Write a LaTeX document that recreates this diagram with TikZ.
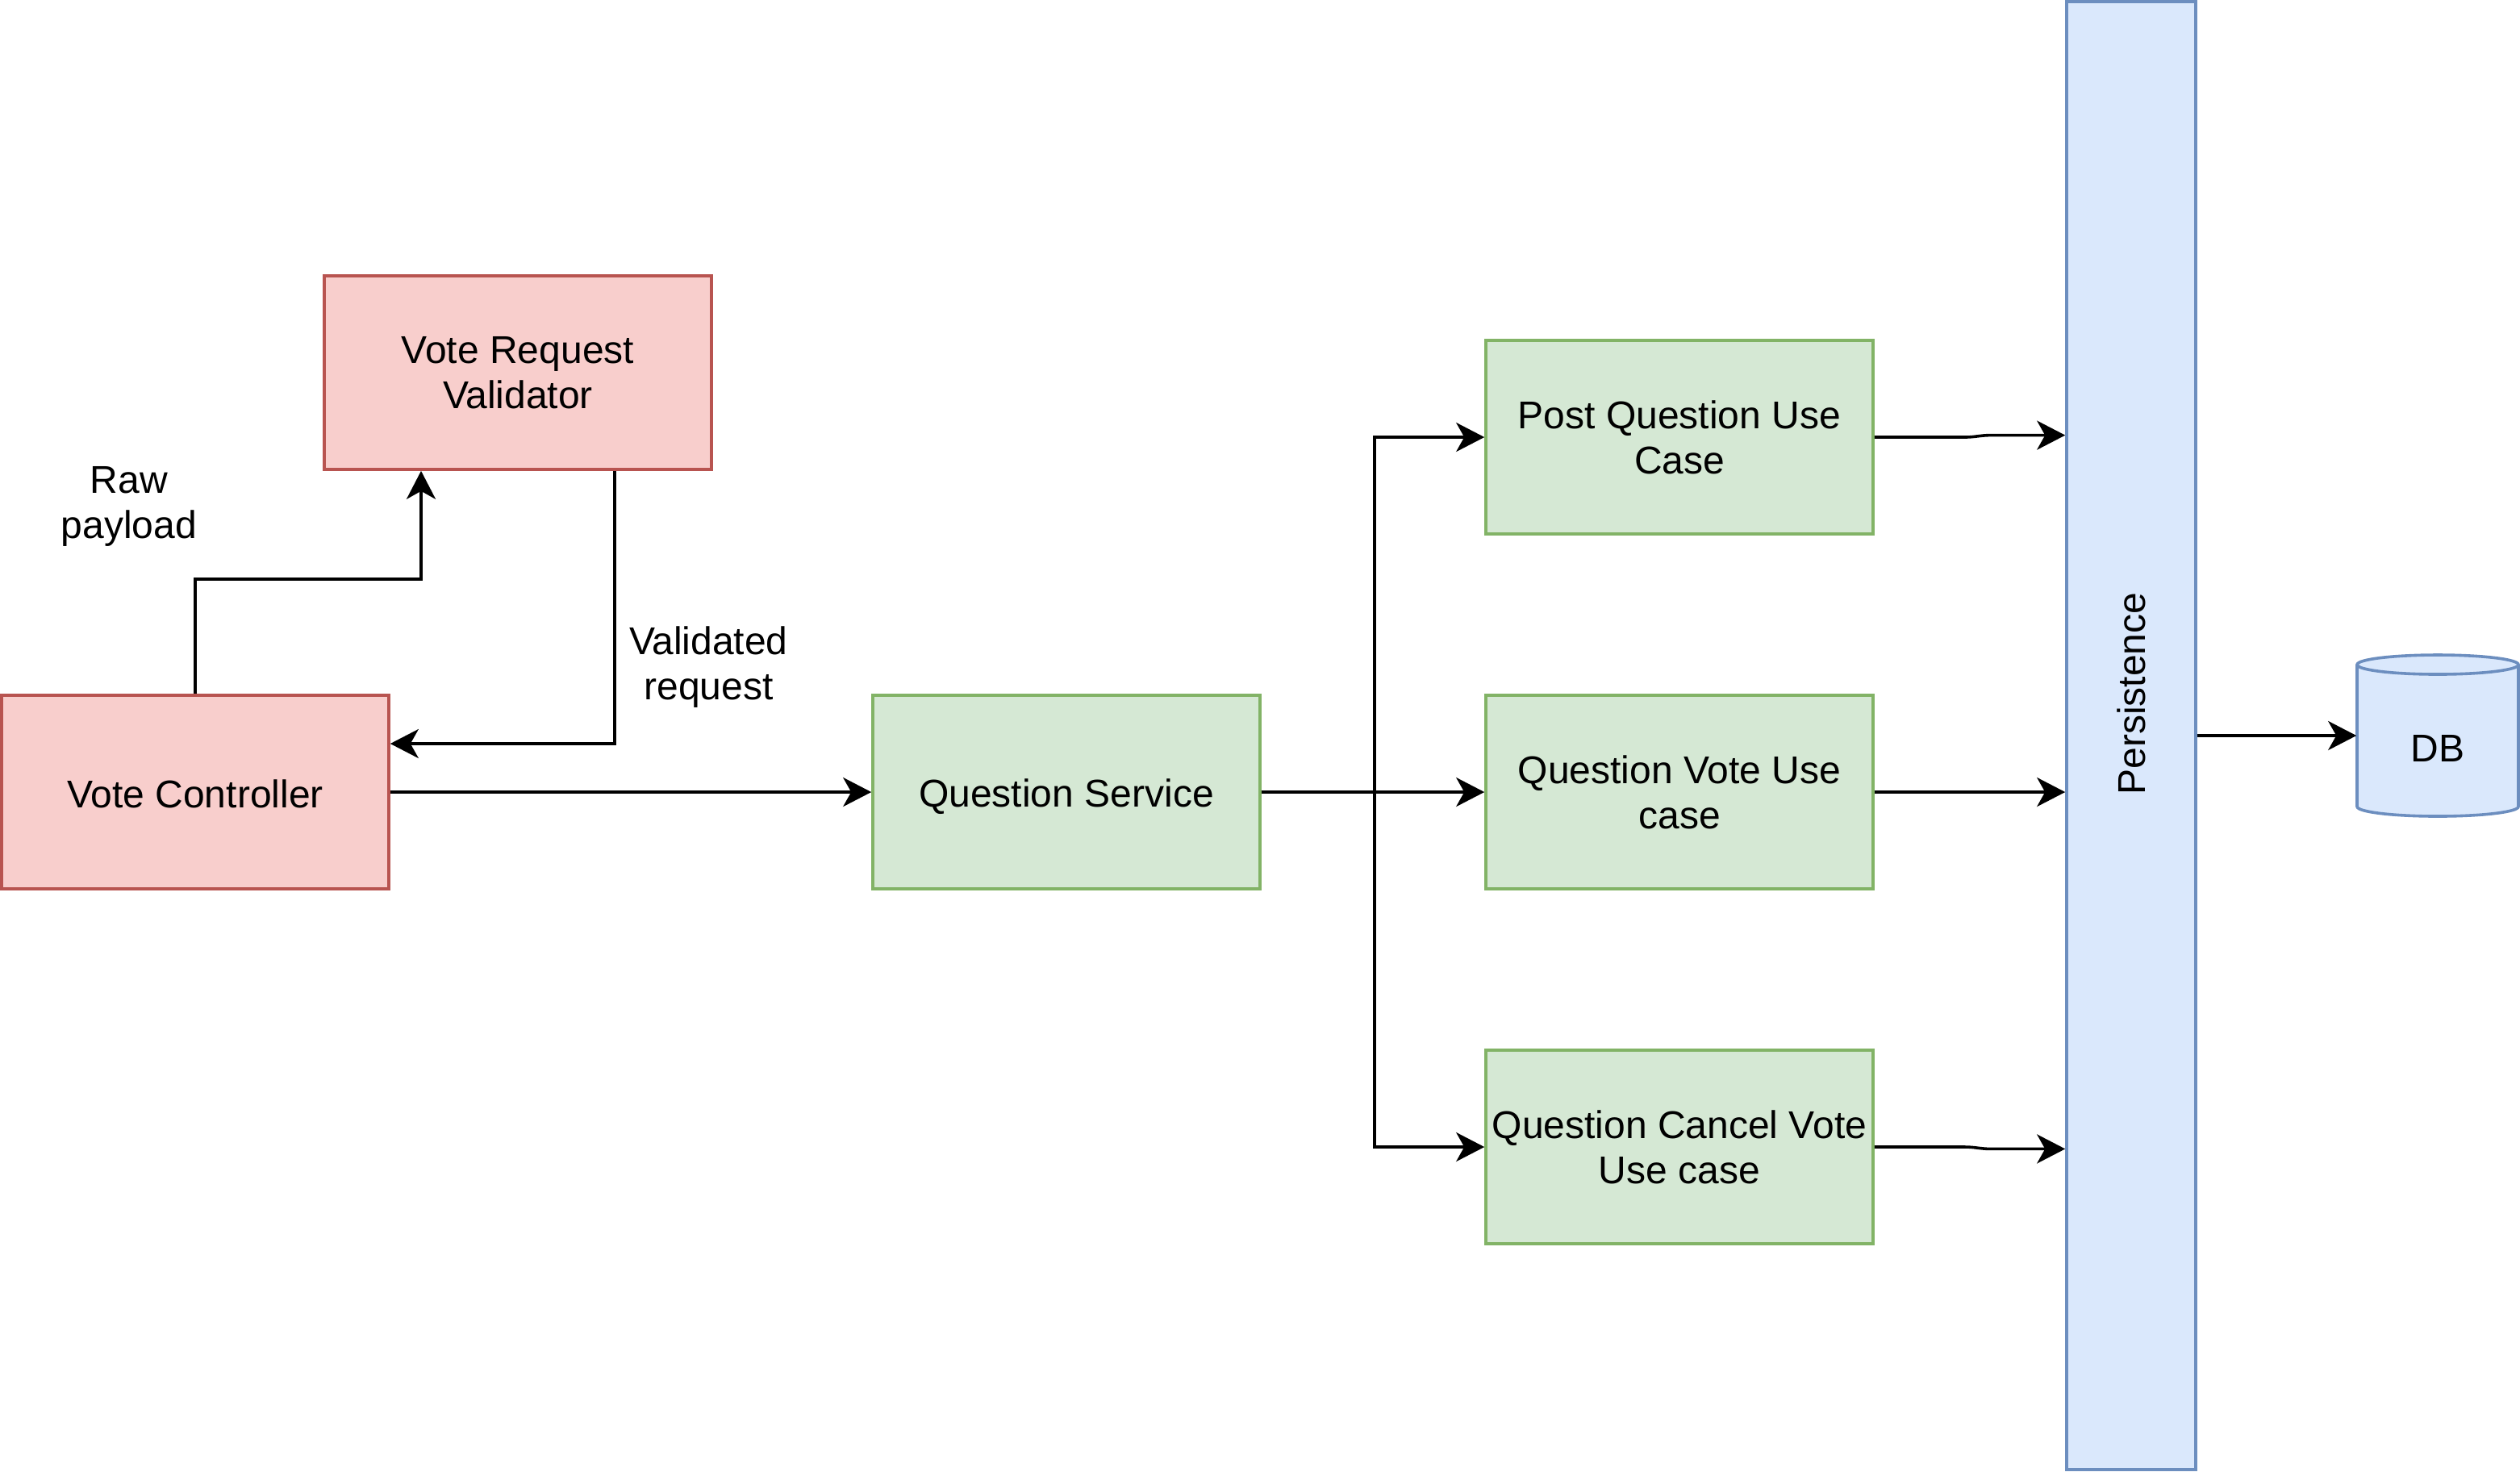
\documentclass[tikz,border=0pt]{standalone}
\usepackage{fontspec}
\setmainfont{Liberation Sans}
\usetikzlibrary{arrows.meta,calc}
\definecolor{redfill}{HTML}{F8CECC}
\definecolor{redline}{HTML}{B85450}
\definecolor{greenfill}{HTML}{D5E8D4}
\definecolor{greenline}{HTML}{82B366}
\definecolor{bluefill}{HTML}{DAE8FC}
\definecolor{blueline}{HTML}{6C8EBF}
\tikzset{
  box/.style={rectangle, minimum width=120pt, minimum height=60pt, inner sep=0pt, line width=0.9pt, align=center, font=\fontsize{12}{14}\selectfont},
  redbox/.style={box, draw=redline, fill=redfill},
  greenbox/.style={box, draw=greenline, fill=greenfill},
  lbl/.style={inner sep=0pt, align=center, font=\fontsize{12}{14}\selectfont},
  arr/.style={line width=0.9pt, -{Stealth[length=8.75pt,width=9pt,inset=2.5pt]}}
}
\begin{document}
\begin{tikzpicture}[x=1pt,y=-1pt]
\useasboundingbox (0,0) rectangle (781,456);
% nodes
\node[redbox] (val) at (160.5,115.5) {Vote Request\\Validator};
\node[redbox] (ctrl) at (60.5,245.5) {\raisebox{-0.6pt}[\height][\depth]{Vote Controller}};
\node[greenbox] (qs) at (330.5,245.5) {\raisebox{-1.4pt}[\height][\depth]{Question Service}};
\node[greenbox] (post) at (520.5,135.5) {Post Question Use\\Case};
\node[greenbox] (vote) at (520.5,245.5) {Question Vote Use\\case};
\node[greenbox] (cancel) at (520.5,355.5) {Question Cancel Vote\\Use case};
\node[rectangle, draw=blueline, fill=bluefill, line width=0.9pt, minimum width=40pt, minimum height=455pt, inner sep=0pt] (pers) at (660.5,228) {};
\node[lbl, rotate=90] (perslabel) at (660.5,215) {Persistence};
% DB cylinder
\path[fill=bluefill] (730.5,206) -- (730.5,250) arc[start angle=180,end angle=360,x radius=25pt,y radius=3pt] -- (780.5,206) arc[start angle=0,end angle=180,x radius=25pt,y radius=3pt] -- cycle;
\draw[draw=blueline, line width=0.9pt] (730.5,206) -- (730.5,250) arc[start angle=180,end angle=360,x radius=25pt,y radius=3pt] -- (780.5,206) arc[start angle=0,end angle=180,x radius=25pt,y radius=3pt] -- cycle;
\draw[draw=blueline, line width=0.9pt] (730.5,206) arc[start angle=180,end angle=360,x radius=25pt,y radius=3pt];
\node[rectangle, minimum width=50pt, minimum height=50pt, inner sep=0pt] (db) at (755.5,228) {};
\node[lbl] (dblabel) at (755.5,232) {DB};
% labels
\node[lbl] (raw) at (40,157) {Raw\\payload};
\node[lbl] (valreq) at (219.6,206.8) {Validated\\request};
% connectors
\draw[arr] (ctrl.north) -- ++(0,-35.5) -| ([xshift=-30pt]val.south);
\draw[arr] ([xshift=30pt]val.south) |- ([yshift=15pt]ctrl.east);
\draw[arr] (ctrl.east) -- (qs.west);
\draw[arr] (qs.east) -- (vote.west);
\draw[arr] (qs.east) -- ++(35,0) |- (post.west);
\draw[arr] (qs.east) -- ++(35,0) |- (cancel.west);
\draw[arr] (post.east) -- ++(28,0) to[out=0,in=180] ++(8,-0.6) -- ([yshift=0.6pt]pers.west |- post.east);
\draw[arr] (vote.east) -- (pers.west |- vote.east);
\draw[arr] (cancel.east) -- ++(28,0) to[out=0,in=180] ++(8,0.6) -- ([yshift=-0.6pt]pers.west |- cancel.east);
\draw[arr] (pers.east) -- (db.west);
\end{tikzpicture}
\end{document}
